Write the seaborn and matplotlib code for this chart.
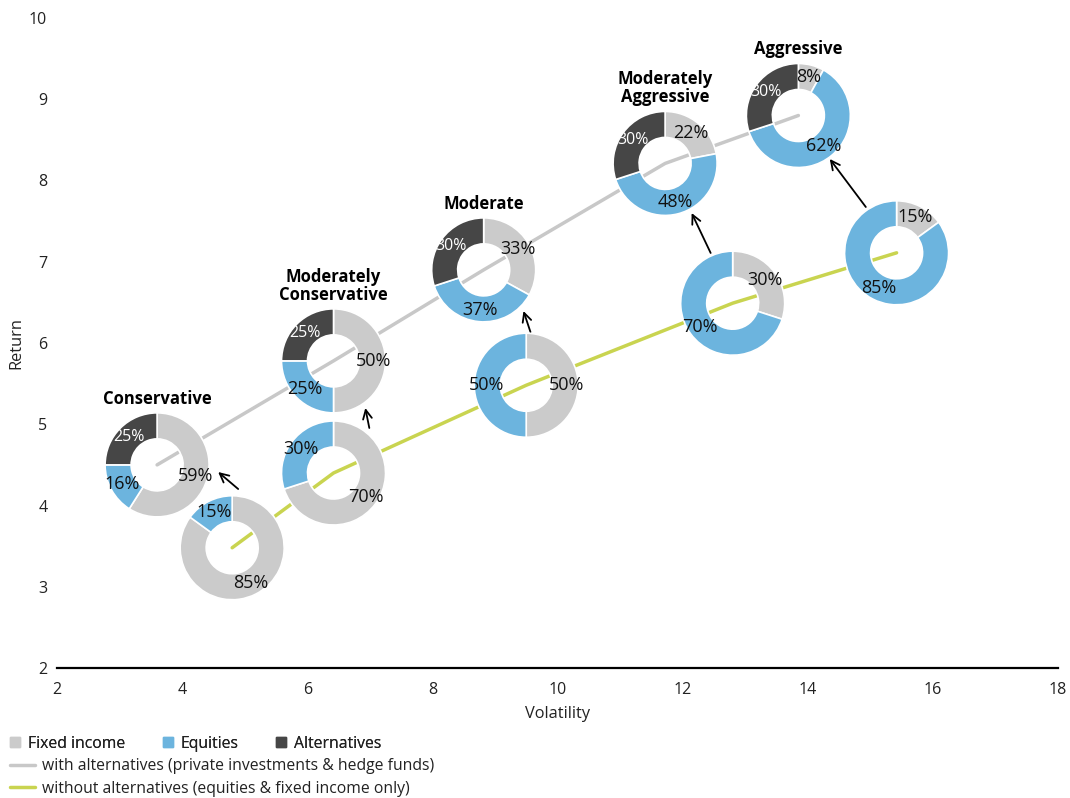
import matplotlib
matplotlib.use("Agg")
import matplotlib.pyplot as plt
from matplotlib.lines import Line2D
import numpy as np
import pandas as pd
import seaborn as sns

# Portfolio profiles
profiles = ["Conservative", "Moderately\nConservative", "Moderate",
            "Moderately\nAggressive", "Aggressive"]

# Risk / return with alternatives
with_vol = [3.6, 6.42, 8.82, 11.72, 13.85]
with_ret = [4.5, 5.78, 6.9, 8.21, 8.8]
with_fixed = [59, 50, 33, 22, 8]
with_equity = [16, 25, 37, 48, 62]
with_alts = [25, 25, 30, 30, 30]

# Risk / return without alternatives
without_vol = [4.8, 6.42, 9.5, 12.8, 15.42]
without_ret = [3.48, 4.4, 5.48, 6.49, 7.11]
without_fixed = [85, 70, 50, 30, 15]
without_equity = [15, 30, 50, 70, 85]

x_ticks = [2, 4, 6, 8, 10, 12, 14, 16, 18]
y_ticks = [2, 3, 4, 5, 6, 7, 8, 9, 10]

C_FIXED = "#CBCBCB"
C_EQUITY = "#6CB4DE"
C_ALTS = "#464646"
C_WITH = "#C8C8C8"
C_WITHOUT = "#C9D450"
C_TEXT = "#222222"

sns.set_theme(style="white")
plt.rcParams["font.family"] = ["Open Sans", "DejaVu Sans"]

W, H = 1070, 798
fig = plt.figure(figsize=(W / 100, H / 100), dpi=100)
ax = fig.add_axes([57 / W, 1 - 668 / H, 1001 / W, 650 / H])

lines = pd.DataFrame({
    "vol": with_vol + without_vol,
    "ret": with_ret + without_ret,
    "series": ["with alternatives (private investments & hedge funds)"] * 5
              + ["without alternatives (equities & fixed income only)"] * 5,
})
sns.lineplot(data=lines, x="vol", y="ret", hue="series", sort=False,
             palette=[C_WITH, C_WITHOUT], linewidth=2.5, ax=ax, legend=False,
             zorder=1)

ax.set_xlim(2, 18)
ax.set_ylim(2, 10)
ax.set_xticks(x_ticks)
ax.set_yticks(y_ticks)
ax.tick_params(axis="both", length=0, labelsize=11.5, colors=C_TEXT)
ax.tick_params(axis="x", pad=10)
ax.tick_params(axis="y", pad=7)
for s in ["top", "right", "left"]:
    ax.spines[s].set_visible(False)
ax.spines["bottom"].set_color("black")
ax.spines["bottom"].set_linewidth(1.6)
ax.set_xlabel("Volatility", fontsize=11.8, color=C_TEXT, labelpad=6)
ax.set_ylabel("Return", fontsize=11.8, color=C_TEXT, labelpad=3)

# donut radius in pixels, converted to data units
R_PX = 52
px_x = 1001 / 16
px_y = 650 / 8
rx, ry = R_PX / px_x, R_PX / px_y


def donut(cx, cy, values, colors):
    iax = ax.inset_axes([cx - rx, cy - ry, 2 * rx, 2 * ry],
                        transform=ax.transData)
    iax.set_axis_off()
    iax.patch.set_alpha(0)
    wedges, _ = iax.pie(values, colors=colors, startangle=90,
                        counterclock=False, radius=1,
                        wedgeprops=dict(width=0.5, edgecolor="white",
                                        linewidth=1.2))
    for w, v, c in zip(wedges, values, colors):
        th = np.deg2rad((w.theta1 + w.theta2) / 2)
        r = 0.77
        dark = c == C_ALTS
        iax.text(r * np.cos(th), r * np.sin(th), f"{v}%",
                 ha="center", va="center",
                 fontsize=11.5 if dark else 13,
                 color="white" if dark else "#111111")
    iax.set_xlim(-1, 1)
    iax.set_ylim(-1, 1)


for i in range(5):
    donut(with_vol[i], with_ret[i],
          [with_fixed[i], with_equity[i], with_alts[i]],
          [C_FIXED, C_EQUITY, C_ALTS])
    donut(without_vol[i], without_ret[i],
          [without_fixed[i], without_equity[i]],
          [C_FIXED, C_EQUITY])
    ax.annotate(profiles[i], xy=(with_vol[i], with_ret[i]),
                xytext=(0, (R_PX + 5) * 0.72), textcoords="offset points",
                ha="center", va="bottom", fontsize=12, fontweight="bold",
                linespacing=1.0, color="black")

# arrows from each portfolio without alternatives to its counterpart
arrow_tail = [(4.896, 4.203), (6.992, 4.954), (9.568, 6.135),
              (12.448, 7.108), (14.928, 7.674)]
arrow_head = [(4.576, 4.412), (6.928, 5.2), (9.456, 6.394),
              (12.144, 7.6), (14.352, 8.265)]
for t, h in zip(arrow_tail, arrow_head):
    ax.annotate("", xy=h, xytext=t,
                arrowprops=dict(arrowstyle="->", color="black", lw=1.3,
                                mutation_scale=16, shrinkA=0, shrinkB=0))

# legends
sq = dict(marker="s", linestyle="none", markersize=7.5)
patch_handles = [Line2D([], [], color=C_FIXED, **sq),
                 Line2D([], [], color=C_EQUITY, **sq),
                 Line2D([], [], color=C_ALTS, **sq)]
leg1 = fig.legend(patch_handles, ["Fixed income", "Equities", "Alternatives"],
                  ncol=3, loc="center left",
                  bbox_to_anchor=(3.6 / W, 1 - 743.5 / H),
                  frameon=False, fontsize=11.3, handlelength=0.64,
                  handletextpad=0.5, columnspacing=2.4, borderaxespad=0,
                  labelcolor=C_TEXT)
line_handles = [Line2D([], [], color=C_WITH, lw=2.5),
                Line2D([], [], color=C_WITHOUT, lw=2.5)]
leg2 = fig.legend(line_handles,
                  ["with alternatives (private investments & hedge funds)",
                   "without alternatives (equities & fixed income only)"],
                  loc="center left", bbox_to_anchor=(3.6 / W, 1 - 777.5 / H),
                  frameon=False, fontsize=11.3, handlelength=1.58,
                  handletextpad=0.45, labelspacing=0.42, borderaxespad=0,
                  labelcolor=C_TEXT)
fig.add_artist(leg1)

fig.savefig("out.png", dpi=100)
